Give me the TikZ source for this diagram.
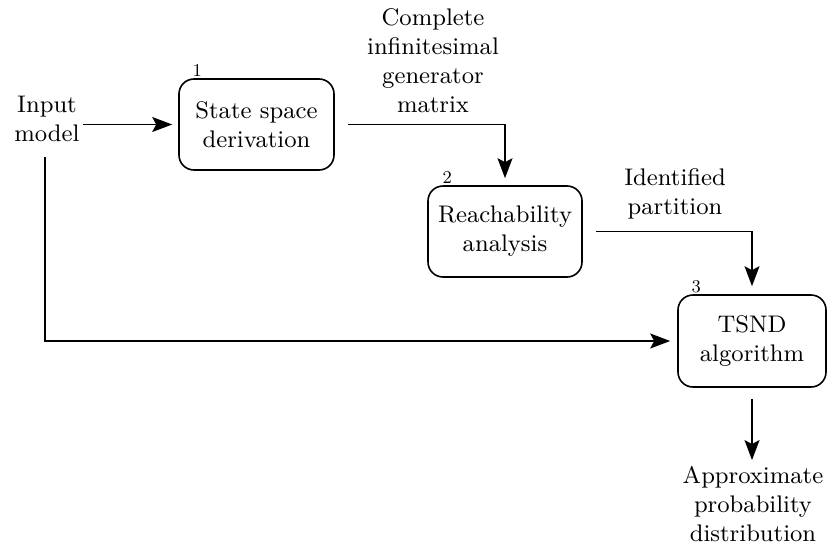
\documentclass[tikz,border=0pt]{standalone}
\usepackage{fontspec}
\setmainfont{lmroman9-regular.otf}
\usetikzlibrary{arrows.meta,calc}
\begin{document}
\begin{tikzpicture}[x=1pt,y=-1pt,
  every node/.style={font=\fontsize{24}{29}\selectfont, align=center},
  procbox/.style={draw, line width=1.6pt, rounded corners=15pt, inner sep=0pt},
  numlbl/.style={font=\fontsize{18}{18}\selectfont, anchor=base, inner sep=0pt},
  txt/.style={inner sep=0pt},
  flow/.style={line width=1.6pt, -{Stealth[length=20pt,width=15pt,inset=4pt]}}
]
\useasboundingbox (0,0) rectangle (827,549);
\node[procbox, minimum width=155pt, minimum height=91pt] (b1) at (256.5,124.5) {State space\\derivation};
\node[procbox, minimum width=154pt, minimum height=91pt] (b2) at (505,231.5) {Reachability\\analysis};
\node[procbox, minimum width=148pt, minimum height=92pt] (b3) at (752,341) {TSND\\algorithm};
\node[numlbl] (n1) at ($(b1.north west)+(19,-2)$) {1};
\node[numlbl] (n2) at ($(b2.north west)+(20,-2)$) {2};
\node[numlbl] (n3) at ($(b3.north west)+(19,-2)$) {3};
\node[txt] (in) at (47,119) {Input\\model};
\node[txt] (lab1) at (433,61) {Complete\\infinitesimal\\generator\\matrix};
\node[txt] (lab2) at (675,194) {Identified\\partition};
\node[txt] (out) at (753,504) {Approximate\\probability\\distribution};
\coordinate (c1) at (45,157);
\draw[flow, shorten <=3pt, shorten >=6pt] (in.east |- b1.west) -- (b1.west);
\draw[flow, shorten >=7pt] (c1) |- (b3.west);
\draw[flow, shorten <=13pt, shorten >=7pt] (b1.east) -| (b2.north);
\draw[flow, shorten <=13pt, shorten >=8pt] (b2.east) -| (b3.north);
\draw[flow, shorten <=11pt, shorten >=6pt] (b3.south) -- (b3.south |- out.north);
\end{tikzpicture}
\end{document}
